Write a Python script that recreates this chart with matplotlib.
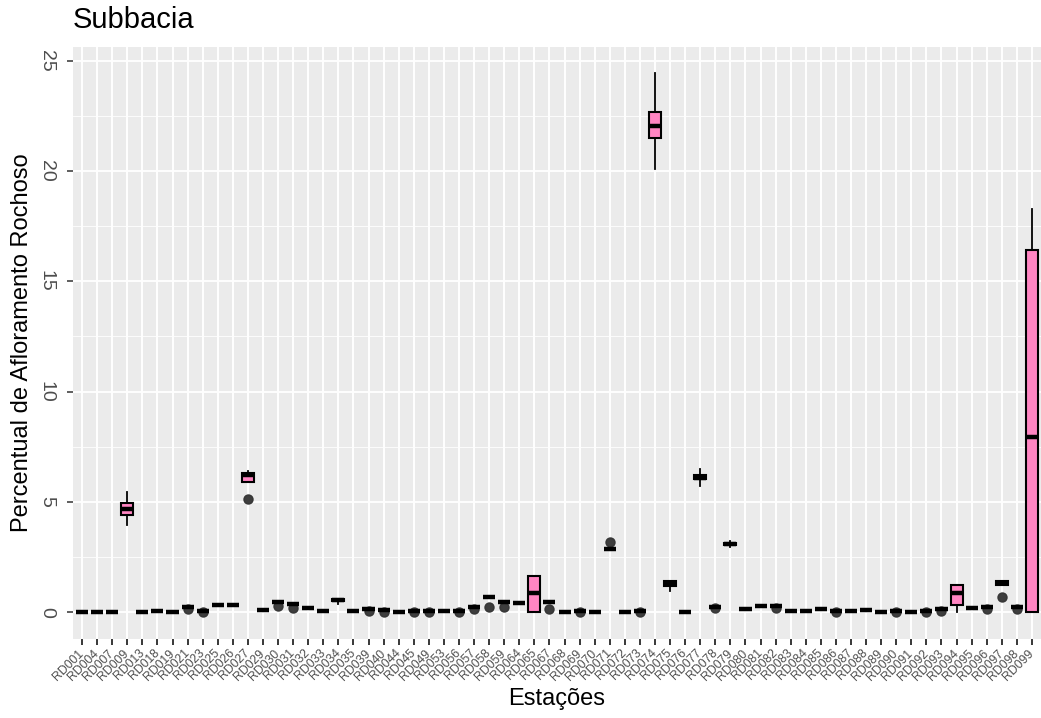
import numpy as np
import matplotlib
matplotlib.use('Agg')
import matplotlib.pyplot as plt
from matplotlib.ticker import MultipleLocator

plt.rcParams['font.family'] = ['Liberation Sans', 'DejaVu Sans']

stations = ['RD001', 'RD004', 'RD007', 'RD009', 'RD013', 'RD018', 'RD019', 'RD021',
            'RD023', 'RD025', 'RD026', 'RD027', 'RD029', 'RD030', 'RD031', 'RD032',
            'RD033', 'RD034', 'RD035', 'RD039', 'RD040', 'RD044', 'RD045', 'RD049',
            'RD053', 'RD056', 'RD057', 'RD058', 'RD059', 'RD064', 'RD065', 'RD067',
            'RD068', 'RD069', 'RD070', 'RD071', 'RD072', 'RD073', 'RD074', 'RD075',
            'RD076', 'RD077', 'RD078', 'RD079', 'RD080', 'RD081', 'RD082', 'RD083',
            'RD084', 'RD085', 'RD086', 'RD087', 'RD088', 'RD089', 'RD090', 'RD091',
            'RD092', 'RD093', 'RD094', 'RD095', 'RD096', 'RD097', 'RD098', 'RD099']

# box statistics per station (percent of rock outcrop)
medians = [0.0, 0.0, 0.0, 4.67, 0.0, 0.07, 0.0, 0.25,
           0.05, 0.32, 0.30, 6.22, 0.10, 0.45, 0.37, 0.18,
           0.03, 0.55, 0.07, 0.15, 0.10, 0.02, 0.03, 0.03,
           0.03, 0.03, 0.25, 0.68, 0.45, 0.40, 0.85, 0.45,
           0.0, 0.03, 0.0, 2.85, 0.0, 0.03, 22.05, 1.30,
           0.02, 6.10, 0.25, 3.10, 0.15, 0.27, 0.27, 0.03,
           0.07, 0.12, 0.03, 0.05, 0.10, 0.0, 0.03, 0.0,
           0.03, 0.12, 0.85, 0.20, 0.22, 1.30, 0.25, 7.95]

q1 = [0.0, 0.0, 0.0, 4.40, 0.0, 0.07, 0.0, 0.25,
      0.05, 0.32, 0.30, 5.88, 0.10, 0.45, 0.37, 0.18,
      0.03, 0.50, 0.07, 0.15, 0.10, 0.02, 0.03, 0.03,
      0.03, 0.03, 0.25, 0.68, 0.45, 0.40, 0.0, 0.45,
      0.0, 0.03, 0.0, 2.85, 0.0, 0.03, 21.50, 1.20,
      0.02, 6.05, 0.25, 3.05, 0.15, 0.27, 0.27, 0.03,
      0.07, 0.12, 0.03, 0.05, 0.10, 0.0, 0.03, 0.0,
      0.03, 0.12, 0.33, 0.20, 0.22, 1.22, 0.25, 0.0]

q3 = [0.0, 0.0, 0.0, 4.95, 0.0, 0.07, 0.0, 0.25,
      0.05, 0.32, 0.30, 6.30, 0.10, 0.45, 0.37, 0.18,
      0.03, 0.60, 0.07, 0.15, 0.10, 0.02, 0.03, 0.03,
      0.03, 0.03, 0.25, 0.68, 0.45, 0.40, 1.65, 0.45,
      0.0, 0.03, 0.0, 2.85, 0.0, 0.03, 22.70, 1.40,
      0.02, 6.20, 0.25, 3.15, 0.15, 0.27, 0.27, 0.03,
      0.07, 0.12, 0.03, 0.05, 0.10, 0.0, 0.03, 0.0,
      0.03, 0.12, 1.22, 0.20, 0.22, 1.42, 0.25, 16.43]

whisker_low = [0.0, 0.0, 0.0, 3.95, 0.0, 0.07, 0.0, 0.25,
               0.05, 0.32, 0.30, 5.88, 0.10, 0.45, 0.37, 0.18,
               0.03, 0.38, 0.07, 0.15, 0.10, 0.02, 0.03, 0.03,
               0.03, 0.03, 0.25, 0.68, 0.45, 0.40, 0.0, 0.45,
               0.0, 0.03, 0.0, 2.85, 0.0, 0.03, 20.10, 0.95,
               0.02, 5.70, 0.25, 2.95, 0.15, 0.27, 0.27, 0.03,
               0.07, 0.12, 0.03, 0.05, 0.10, 0.0, 0.03, 0.0,
               0.03, 0.12, 0.0, 0.20, 0.22, 1.22, 0.25, 0.0]

whisker_high = [0.0, 0.0, 0.0, 5.45, 0.0, 0.07, 0.0, 0.25,
                0.05, 0.32, 0.30, 6.38, 0.10, 0.45, 0.37, 0.18,
                0.03, 0.60, 0.07, 0.15, 0.10, 0.02, 0.03, 0.03,
                0.03, 0.03, 0.25, 0.68, 0.45, 0.40, 1.65, 0.45,
                0.0, 0.03, 0.0, 2.85, 0.0, 0.03, 24.45, 1.40,
                0.02, 6.50, 0.25, 3.22, 0.15, 0.27, 0.27, 0.03,
                0.07, 0.12, 0.03, 0.05, 0.10, 0.0, 0.03, 0.0,
                0.03, 0.12, 1.22, 0.20, 0.22, 1.42, 0.25, 18.30]

outliers = [[], [], [], [], [], [], [], [0.12],
            [0.0], [], [], [5.13], [], [0.27], [0.20], [],
            [], [], [], [0.05], [0.02], [], [0.0], [0.0],
            [], [0.0], [0.12], [0.22], [0.25], [], [], [0.15],
            [], [0.0], [], [3.20], [], [0.0], [], [],
            [], [], [0.18], [], [], [], [0.20], [],
            [], [], [0.0], [], [], [], [0.0], [],
            [0.0], [0.05], [], [], [0.15], [0.70], [0.12], []]


def build_stats():
    stats = []
    for i, name in enumerate(stations):
        stats.append({
            'label': name,
            'med': medians[i],
            'q1': q1[i],
            'q3': q3[i],
            'whislo': whisker_low[i],
            'whishi': whisker_high[i],
            'fliers': np.array(outliers[i]),
        })
    return stats


def draw_boxes(ax):
    ax.bxp(build_stats(), positions=range(len(stations)), widths=0.8,
           patch_artist=True, showcaps=False,
           boxprops=dict(facecolor='#FF85C2', edgecolor='black', linewidth=1.5),
           medianprops=dict(color='black', linewidth=3.2, solid_capstyle='butt'),
           whiskerprops=dict(color='black', linewidth=1.3),
           flierprops=dict(marker='o', markersize=6.5, markerfacecolor='#333333',
                           markeredgecolor='#333333', alpha=0.95))


def style_axes(ax):
    ax.set_facecolor('#EBEBEB')
    for s in ax.spines.values():
        s.set_visible(False)
    ax.set_xlim(-0.6, len(stations) - 0.4)
    ax.set_ylim(-1.22, 25.63)
    ax.yaxis.set_major_locator(MultipleLocator(5))
    ax.yaxis.set_minor_locator(MultipleLocator(2.5))
    ax.set_xticks(range(len(stations)))
    ax.set_xticklabels(stations, rotation=45, ha='right', va='center',
                       rotation_mode='anchor', fontsize=8.8, color='#4D4D4D')
    ax.set_yticks([0, 5, 10, 15, 20, 25])
    ax.set_yticklabels(['0', '5', '10', '15', '20', '25'], rotation=-90,
                       va='center', fontsize=14, color='#4D4D4D')
    ax.tick_params(axis='both', which='major', length=4, width=1.1, color='#333333')
    ax.tick_params(axis='y', which='major', pad=9)
    ax.tick_params(axis='x', which='major', pad=5)
    ax.tick_params(axis='y', which='minor', length=0)
    ax.grid(True, which='major', color='white', linewidth=1.3)
    ax.grid(True, which='minor', axis='y', color='white', linewidth=0.6)
    ax.set_axisbelow(True)


def main():
    fig = plt.figure(figsize=(10.41, 7.18), dpi=100)
    ax = fig.add_axes([73 / 1041, 1 - 639 / 718, 968 / 1041, 592 / 718])
    style_axes(ax)
    draw_boxes(ax)

    fig.text(73 / 1041, 1 - 28 / 718, 'Subbacia', fontsize=21, va='baseline')
    fig.text(22 / 1041, 1 - 343 / 718, 'Percentual de Afloramento Rochoso',
             rotation=90, fontsize=17, ha='center', va='center')
    fig.text(557 / 1041, 1 - 705 / 718, 'Estações', fontsize=17,
             ha='center', va='baseline')

    fig.savefig('out.png', dpi=100)


main()
